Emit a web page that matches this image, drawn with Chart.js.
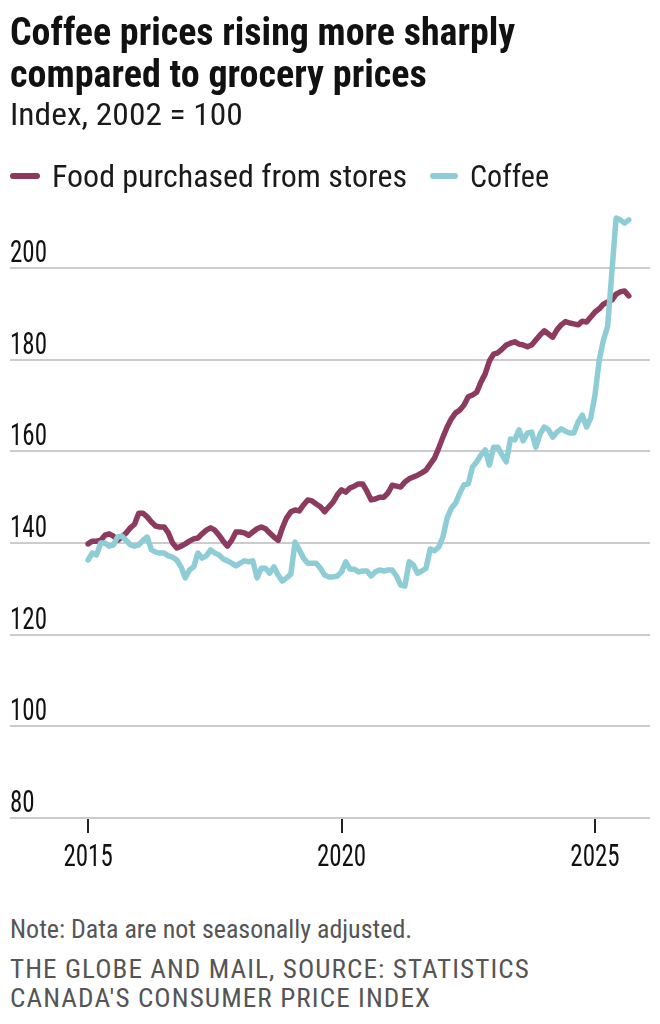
<!DOCTYPE html>
<html>
<head>
<meta charset="utf-8">
<script src="https://cdn.jsdelivr.net/npm/chart.js@4.4.1/dist/chart.umd.min.js"></script>
<style>
  html, body { margin: 0; padding: 0; background: #fff; }
  body { width: 660px; height: 1024px; position: relative; overflow: hidden;
         font-family: 'Roboto Condensed', Roboto, sans-serif; }
  canvas { position: absolute; left: 0; top: 0; }
  .t { position: absolute; left: 10px; white-space: nowrap; transform-origin: 0 50%; display: inline-block; }
  .title { font-weight: 700; font-size: 39px; line-height: 42px; color: #111; }
  .sub { font-size: 32px; line-height: 36px; color: #1a1a1a; }
  .note { font-size: 25px; line-height: 28px; color: #555; }
  .src { font-size: 25px; line-height: 28px; color: #555; letter-spacing: 1px; }
  .sw { position: absolute; height: 6px; border-radius: 3px; top: 173px; }
</style>
</head>
<body>
<canvas id="chart" width="660" height="890"></canvas>

<div class="t title" style="top:11px" data-w="505">Coffee prices rising more sharply</div>
<div class="t title" style="top:53px" data-w="417">compared to grocery prices</div>
<div class="t sub" style="top:96px" data-w="233">Index, 2002 = 100</div>

<div class="sw" style="left:10px;width:30px;background:#8c3b5f"></div>
<div class="t sub" style="top:158px;left:52px" data-w="355">Food purchased from stores</div>
<div class="sw" style="left:430px;width:28px;background:#8ecdd6"></div>
<div class="t sub" style="top:158px;left:470px" data-w="79">Coffee</div>

<div class="t note" style="top:916px" data-w="402">Note: Data are not seasonally adjusted.</div>
<div class="t src" style="top:956px" data-w="520">THE GLOBE AND MAIL, SOURCE: STATISTICS</div>
<div class="t src" style="top:985px" data-w="421">CANADA'S CONSUMER PRICE INDEX</div>

<script>
// Monthly CPI, Jan 2015 - Sep 2025 (2002 = 100)
const startYear = 2015;

const food = [
  139.8, 140.4, 140.4, 140.6, 141.7, 142.0, 141.5, 140.6, 141.3, 142.2, 143.3, 144.1, // 2015
  146.5, 146.5, 145.7, 144.6, 143.7, 143.5, 143.5, 142.2, 140.0, 138.9, 139.3, 139.8, // 2016
  140.4, 140.9, 141.1, 142.0, 142.8, 143.3, 142.8, 141.7, 140.4, 139.3, 140.6, 142.4, // 2017
  142.4, 142.2, 141.7, 142.4, 143.1, 143.5, 143.1, 142.2, 141.3, 140.6, 143.3, 145.5, // 2018
  146.8, 147.2, 147.0, 148.3, 149.4, 149.2, 148.5, 147.9, 146.8, 147.9, 148.9, 150.5, // 2019
  151.6, 151.1, 152.0, 152.4, 152.9, 152.9, 151.3, 149.4, 149.6, 150.0, 150.0, 150.9, // 2020
  152.6, 152.4, 152.2, 153.3, 154.0, 154.4, 154.8, 155.3, 155.9, 157.2, 158.5, 160.7, // 2021
  163.1, 165.3, 167.1, 168.4, 169.0, 170.1, 171.9, 172.3, 172.9, 175.1, 176.9, 179.7, // 2022
  181.2, 181.5, 182.3, 183.2, 183.6, 183.9, 183.4, 183.2, 182.8, 183.2, 184.3, 185.4, // 2023
  186.3, 185.6, 184.9, 186.5, 187.6, 188.3, 188.0, 187.8, 187.6, 188.4, 188.2, 189.3, // 2024
  190.4, 191.1, 192.1, 192.6, 193.0, 194.3, 194.8, 195.0, 193.9                       // 2025
];

const coffee = [
  136.3, 137.8, 137.4, 140.0, 140.0, 139.3, 139.6, 141.3, 141.5, 140.6, 139.6, 139.3, // 2015
  139.6, 140.6, 141.3, 138.5, 138.0, 137.8, 137.8, 137.2, 136.9, 136.3, 134.8, 132.4, // 2016
  134.1, 134.8, 137.8, 136.7, 137.2, 138.5, 137.8, 137.4, 136.5, 136.1, 135.6, 135.0, // 2017
  135.6, 136.1, 135.9, 136.1, 132.4, 134.5, 134.5, 133.4, 134.8, 133.0, 131.7, 132.4, // 2018
  133.2, 140.2, 138.5, 136.7, 135.6, 135.6, 135.6, 134.5, 133.0, 132.6, 132.6, 132.8, // 2019
  133.7, 135.9, 134.3, 134.3, 133.7, 133.9, 133.9, 132.8, 133.7, 134.1, 133.9, 134.1, // 2020
  134.1, 132.8, 130.8, 130.6, 135.9, 135.2, 133.4, 133.9, 134.5, 138.7, 138.3, 139.1, // 2021
  141.3, 145.5, 147.6, 148.7, 150.9, 152.7, 152.9, 156.6, 157.7, 159.2, 160.3, 157.0, // 2022
  160.9, 160.9, 159.2, 157.7, 162.7, 162.5, 164.7, 162.3, 164.0, 164.2, 160.9, 163.8, // 2023
  165.3, 164.7, 163.1, 164.2, 164.9, 164.4, 164.0, 164.0, 166.4, 167.9, 165.3, 167.3, // 2024
  172.3, 179.9, 184.3, 187.3, 199.1, 210.9, 210.5, 209.8, 210.5                       // 2025
];

const xTicks = [2015, 2020, 2025];
const yTicks = [80, 100, 120, 140, 160, 180, 200];

const FOOD_COLOR = '#8c3b5f';
const COFFEE_COLOR = '#8ecdd6';
const FONT = "'Roboto Condensed', Roboto, sans-serif";

function toPoints(values) {
  return values.map(function (v, i) {
    return { x: startYear + i / 12, y: v };
  });
}

function lineDataset(label, values, color, order) {
  return {
    label: label,
    data: toPoints(values),
    borderColor: color,
    borderWidth: 5.5,
    pointRadius: 0,
    tension: 0,
    borderCapStyle: 'round',
    borderJoinStyle: 'round',
    order: order
  };
}

// tick labels drawn a bit narrower than the stock font, like the original
const narrowTicks = {
  id: 'narrowTicks',
  afterDraw: function (chart) {
    const ctx = chart.ctx;
    const sx = 0.78;
    ctx.save();
    ctx.fillStyle = '#111';
    ctx.font = '32px ' + FONT;
    ctx.textBaseline = 'middle';

    const y = chart.scales.y;
    ctx.textAlign = 'left';
    y.ticks.forEach(function (t) {
      const py = y.getPixelForValue(t.value) - 14;
      ctx.save();
      ctx.translate(chart.chartArea.left, py);
      ctx.scale(sx, 1);
      ctx.fillText(String(t.value), 0, 0);
      ctx.restore();
    });

    const x = chart.scales.x;
    ctx.textAlign = 'center';
    x.ticks.forEach(function (t) {
      const px = x.getPixelForValue(t.value);
      ctx.save();
      ctx.translate(px, chart.chartArea.bottom + 40);
      ctx.scale(sx, 1);
      ctx.fillText(String(t.value), 0, 0);
      ctx.restore();
    });
    ctx.restore();
  }
};

new Chart(document.getElementById('chart'), {
  type: 'line',
  data: {
    datasets: [
      lineDataset('Coffee', coffee, COFFEE_COLOR, 0),
      lineDataset('Food purchased from stores', food, FOOD_COLOR, 1)
    ]
  },
  options: {
    responsive: false,
    animation: false,
    layout: { padding: { left: 10, right: 10, top: 213, bottom: 0 } },
    plugins: {
      legend: { display: false },
      tooltip: { enabled: false }
    },
    scales: {
      x: {
        type: 'linear',
        min: 2013.46,
        max: 2026.085,
        afterBuildTicks: function (s) { s.ticks = xTicks.map(function (v) { return { value: v }; }); },
        afterFit: function (s) { s.height = 72; },
        border: { display: false },
        grid: { drawOnChartArea: false, drawTicks: true, tickLength: 15, color: '#222', lineWidth: 2 },
        ticks: { display: false }
      },
      y: {
        min: 80,
        max: 212,
        afterBuildTicks: function (s) { s.ticks = yTicks.map(function (v) { return { value: v }; }); },
        afterFit: function (s) { s.width = 0; },
        border: { display: false },
        grid: { color: '#cccccc', lineWidth: 2, drawTicks: false },
        ticks: { display: false }
      }
    }
  },
  plugins: [narrowTicks]
});

// squeeze the html text to the widths in the reference
document.querySelectorAll('.t').forEach(function (el) {
  const w = el.getBoundingClientRect().width;
  const target = parseFloat(el.dataset.w);
  el.style.transform = 'scaleX(' + (target / w).toFixed(3) + ')';
});
</script>
</body>
</html>
